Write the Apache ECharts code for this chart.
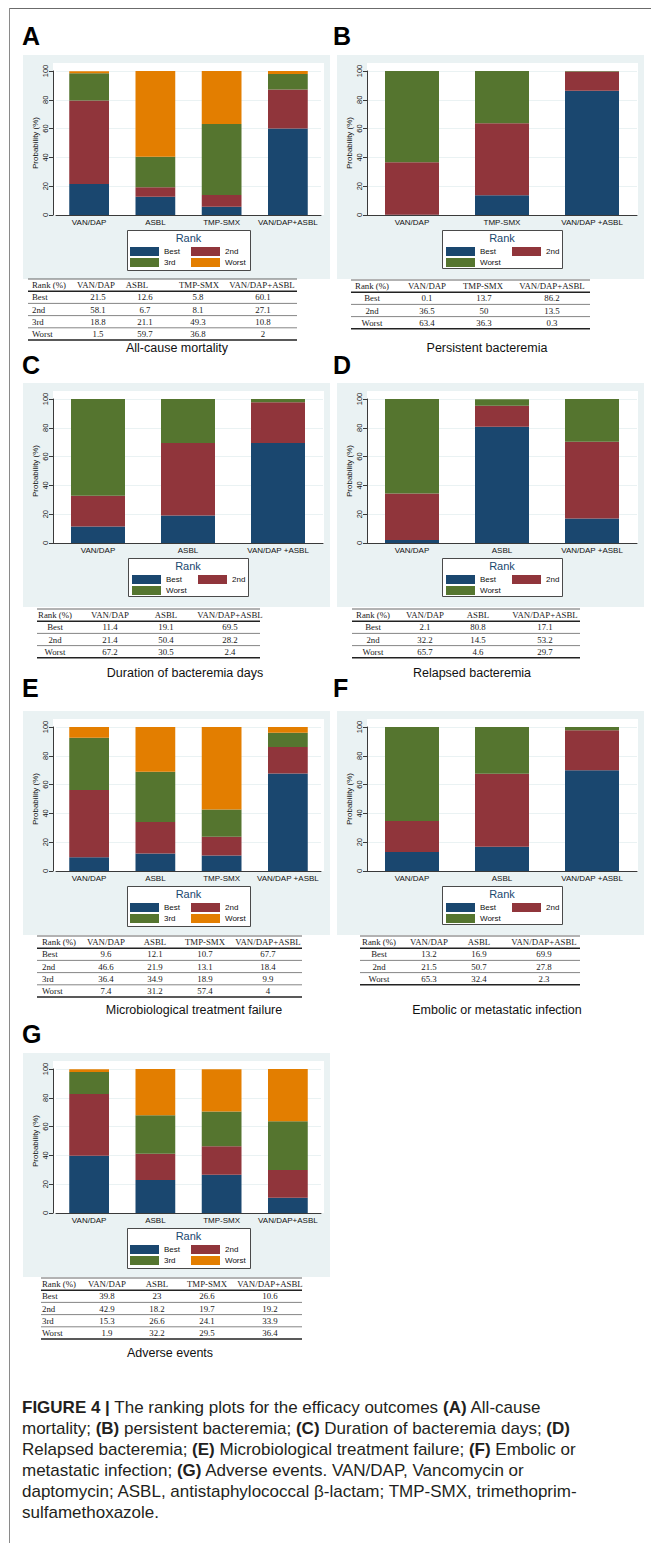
<!DOCTYPE html>
<html>
<head>
<meta charset="utf-8">
<title>Ranking plots</title>
<script src="https://cdn.jsdelivr.net/npm/echarts@6/dist/echarts.min.js"></script>
<style>
  html, body { margin: 0; padding: 0; background: #fff; }
  #chart { width: 651px; height: 1543px; }
</style>
</head>
<body>
<div id="chart"></div>
<script>
// ---------- rank levels and y ticks ----------
const rankLevels4 = ['Best', '2nd', '3rd', 'Worst'];
const rankLevels3 = ['Best', '2nd', 'Worst'];
const yTickValues = [0, 20, 40, 60, 80, 100];

// ---------- treatment arms (axis labels) ----------
const armsA = ['VAN/DAP', 'ASBL', 'TMP-SMX', 'VAN/DAP+ASBL'];
const armsB = ['VAN/DAP', 'TMP-SMX', 'VAN/DAP +ASBL'];
const armsC = ['VAN/DAP', 'ASBL', 'VAN/DAP +ASBL'];
const armsD = ['VAN/DAP', 'ASBL', 'VAN/DAP +ASBL'];
const armsE = ['VAN/DAP', 'ASBL', 'TMP-SMX', 'VAN/DAP +ASBL'];
const armsF = ['VAN/DAP', 'ASBL', 'VAN/DAP +ASBL'];
const armsG = ['VAN/DAP', 'ASBL', 'TMP-SMX', 'VAN/DAP+ASBL'];

// ---------- table column headers ----------
const head4 = ['VAN/DAP', 'ASBL', 'TMP-SMX', 'VAN/DAP+ASBL'];
const headB = ['VAN/DAP', 'TMP-SMX', 'VAN/DAP+ASBL'];
const head3 = ['VAN/DAP', 'ASBL', 'VAN/DAP+ASBL'];

// ---------- rank probabilities (%) ----------
// (A) All-cause mortality
const aBest  = [21.5, 12.6, 5.8, 60.1];
const a2nd   = [58.1, 6.7, 8.1, 27.1];
const a3rd   = [18.8, 21.1, 49.3, 10.8];
const aWorst = [1.5, 59.7, 36.8, 2];
// (B) Persistent bacteremia
const bBest  = [0.1, 13.7, 86.2];
const b2nd   = [36.5, 50, 13.5];
const bWorst = [63.4, 36.3, 0.3];
// (C) Duration of bacteremia days
const cBest  = [11.4, 19.1, 69.5];
const c2nd   = [21.4, 50.4, 28.2];
const cWorst = [67.2, 30.5, 2.4];
// (D) Relapsed bacteremia
const dBest  = [2.1, 80.8, 17.1];
const d2nd   = [32.2, 14.5, 53.2];
const dWorst = [65.7, 4.6, 29.7];
// (E) Microbiological treatment failure
const eBest  = [9.6, 12.1, 10.7, 67.7];
const e2nd   = [46.6, 21.9, 13.1, 18.4];
const e3rd   = [36.4, 34.9, 18.9, 9.9];
const eWorst = [7.4, 31.2, 57.4, 4];
// (F) Embolic or metastatic infection
const fBest  = [13.2, 16.9, 69.9];
const f2nd   = [21.5, 50.7, 27.8];
const fWorst = [65.3, 32.4, 2.3];
// (G) Adverse events
const gBest  = [39.8, 23, 26.6, 10.6];
const g2nd   = [42.9, 18.2, 19.7, 19.2];
const g3rd   = [15.3, 26.6, 24.1, 33.9];
const gWorst = [1.9, 32.2, 29.5, 36.4];

// ---------- caption ----------
const captionLines = [
  '{b|FIGURE 4 |} The ranking plots for the efficacy outcomes {b|(A)} All-cause',
  'mortality; {b|(B)} persistent bacteremia; {b|(C)} Duration of bacteremia days; {b|(D)}',
  'Relapsed bacteremia; {b|(E)} Microbiological treatment failure; {b|(F)} Embolic or',
  'metastatic infection; {b|(G)} Adverse events. VAN/DAP, Vancomycin or',
  'daptomycin; ASBL, antistaphylococcal \u03b2-lactam; TMP-SMX, trimethoprim-',
  'sulfamethoxazole.'
];

// ---------- styling ----------
const NAVY = '#1A476F', MAROON = '#90353B', FOREST = '#55752F', ORANGE = '#E37E00';
const colors4 = [NAVY, MAROON, FOREST, ORANGE];
const colors3 = [NAVY, MAROON, FOREST];
const PANEL_BG = '#EAF2F3';
const AXIS = '#3a3a3a';
const SANS = '"Liberation Sans", Arial, Helvetica, sans-serif';
const SERIF = '"Liberation Serif", "Times New Roman", serif';

// Panel layout: background origin, letter, caption and table placement
const panels = [
  { tag: 'A', title: 'All-cause mortality', arms: armsA, head: head4, ranks: rankLevels4,
    values: [aBest, a2nd, a3rd, aWorst], bx: 23, by: 55, lx: 22, ly: 35.5, tx: 177, ty: 348,
    tab: { top: 279, x0: 28, x1: 297, rowX: 32, rowAlign: 'left', headX: [96, 137, 199, 262], valX: [98, 145, 198, 263] } },
  { tag: 'B', title: 'Persistent bacteremia', arms: armsB, head: headB, ranks: rankLevels3,
    values: [bBest, b2nd, bWorst], bx: 337, by: 55, lx: 333, ly: 35.5, tx: 487, ty: 348,
    tab: { top: 280, x0: 351, x1: 590, rowX: 372, rowAlign: 'center', headX: [427, 483, 552], valX: [427, 484, 552] } },
  { tag: 'C', title: 'Duration of bacteremia days', arms: armsC, head: head3, ranks: rankLevels3,
    values: [cBest, c2nd, cWorst], bx: 23, by: 383, lx: 22, ly: 365, tx: 185, ty: 673,
    tab: { top: 609, x0: 37, x1: 260, rowX: 55, rowAlign: 'center', headX: [110, 166, 230], valX: [110, 166, 230] } },
  { tag: 'D', title: 'Relapsed bacteremia', arms: armsD, head: head3, ranks: rankLevels3,
    values: [dBest, d2nd, dWorst], bx: 337, by: 383, lx: 333, ly: 365, tx: 472, ty: 673,
    tab: { top: 609, x0: 352, x1: 580, rowX: 373, rowAlign: 'center', headX: [425, 478, 545], valX: [425, 478, 545] } },
  { tag: 'E', title: 'Microbiological treatment failure', arms: armsE, head: head4, ranks: rankLevels4,
    values: [eBest, e2nd, e3rd, eWorst], bx: 23, by: 711, lx: 22, ly: 687.5, tx: 194, ty: 1010,
    tab: { top: 936, x0: 37, x1: 302, rowX: 42, rowAlign: 'left', headX: [106, 155, 205, 268], valX: [106, 155, 205, 268] } },
  { tag: 'F', title: 'Embolic or metastatic infection', arms: armsF, head: head3, ranks: rankLevels3,
    values: [fBest, f2nd, fWorst], bx: 337, by: 711, lx: 333, ly: 687.5, tx: 497, ty: 1010,
    tab: { top: 936, x0: 360, x1: 580, rowX: 379, rowAlign: 'center', headX: [429, 479, 544], valX: [429, 479, 544] } },
  { tag: 'G', title: 'Adverse events', arms: armsG, head: head4, ranks: rankLevels4,
    values: [gBest, g2nd, g3rd, gWorst], bx: 23, by: 1053, lx: 22, ly: 1034, tx: 170, ty: 1353,
    tab: { top: 1278, x0: 41, x1: 302, rowX: 42, rowAlign: 'left', headX: [107, 157, 207, 270], valX: [107, 157, 207, 270] } }
];

const chart = echarts.init(document.getElementById('chart'), null, { renderer: 'svg', width: 651, height: 1543 });

const option = {
  animation: false,
  backgroundColor: '#ffffff',
  grid: [], xAxis: [], yAxis: [], series: [], legend: [], title: [],
  graphic: { elements: [] }
};
const G = option.graphic.elements;

function text(x, y, str, font, fill, align, extra) {
  return Object.assign({
    type: 'text', x: x, y: y, silent: true,
    style: { text: str, font: font, fill: fill, textAlign: align, align: align,
             textVerticalAlign: 'middle', verticalAlign: 'middle' }
  }, extra || {});
}
function line(x1, y1, x2, y2, stroke, w) {
  return { type: 'line', silent: true, shape: { x1: x1, y1: y1, x2: x2, y2: y2 },
           style: { stroke: stroke, lineWidth: w } };
}

// outer frame of the figure
G.push(line(9, 8.5, 651, 8.5, '#6b6b6b', 1));
G.push(line(9.5, 8, 9.5, 1543, '#8a8a8a', 1));

const PANEL_W = 307, PANEL_H = 224;
const yMin = yTickValues[0], yMax = yTickValues[yTickValues.length - 1];
const yStep = yTickValues[1] - yTickValues[0];

panels.forEach(function (p, i) {
  const four = p.arms.length === 4;
  const colors = p.ranks.length === 4 ? colors4 : colors3;
  const axisX = p.bx + 30;
  const gLeft = p.bx + (four ? 33 : 30);
  const gWidth = four ? 265 : 270;

  // panel background and plot region
  G.push({ type: 'rect', silent: true, z: -10, shape: { x: p.bx, y: p.by, width: PANEL_W, height: PANEL_H }, style: { fill: PANEL_BG } });
  G.push({ type: 'rect', silent: true, z: -9, shape: { x: axisX, y: p.by + 8, width: 271, height: 152 }, style: { fill: '#ffffff' } });

  option.grid.push({ left: gLeft, top: p.by + 16, width: gWidth, height: 144, containLabel: false, outerBoundsMode: 'none' });

  option.xAxis.push({
    type: 'category', gridIndex: i, data: p.arms,
    axisLine: { show: true, lineStyle: { color: AXIS, width: 1 } },
    axisTick: { show: false },
    axisLabel: { interval: 0, fontSize: 8, fontFamily: SANS, color: '#111', margin: 3 },
    splitLine: { show: false }
  });

  option.yAxis.push({
    type: 'value', gridIndex: i, min: yMin, max: yMax, interval: yStep,
    offset: gLeft - axisX,
    axisLine: { show: true, lineStyle: { color: AXIS, width: 1 } },
    axisTick: { show: true, length: 4, lineStyle: { color: AXIS } },
    axisLabel: { rotate: 90, fontSize: 7.5, fontFamily: SANS, color: '#111', margin: 4 },
    splitLine: { show: true, lineStyle: { color: PANEL_BG, width: 1 } },
    name: 'Probability (%)', nameLocation: 'middle', nameRotate: 90, nameGap: 14,
    nameMoveOverlap: false,
    nameTextStyle: { fontSize: 8, fontFamily: SANS, color: '#111' }
  });

  p.ranks.forEach(function (r, k) {
    option.series.push({
      type: 'bar', name: r, xAxisIndex: i, yAxisIndex: i, stack: 'rank' + i,
      barWidth: '60%', data: p.values[k], silent: true,
      itemStyle: { color: colors[k] }
    });
  });

  // legend box with "Rank" heading
  const boxL = p.bx + (four ? 104 : 105);
  const boxW = four ? 123 : 120;
  const boxH = p.ranks.length === 4 ? 40 : 38;
  G.push({ type: 'rect', silent: true, z: 5, shape: { x: boxL + 0.5, y: p.by + 175.5, width: boxW, height: boxH },
           style: { fill: '#ffffff', stroke: '#4a4a4a', lineWidth: 1 } });
  G.push(text(boxL + boxW / 2, p.by + 183, 'Rank', '11px ' + SANS, NAVY, 'center', { z: 6 }));

  option.legend.push({
    left: boxL + (four ? 3 : 4), top: p.by + 192, width: 140,
    orient: 'horizontal', padding: 0, itemGap: 2,
    itemWidth: 29, itemHeight: 9, icon: 'rect', selectedMode: false, z: 7,
    data: p.ranks.map(function (r, k) { return { name: r, itemStyle: { color: colors[k] } }; }),
    textStyle: { fontSize: 8, fontFamily: SANS, color: '#111', width: four ? 25 : 30, lineHeight: 9 }
  });

  // panel letter and outcome caption
  G.push(text(p.lx, p.ly, p.tag, 'bold 25px ' + SANS, '#000', 'left'));
  G.push(text(p.tx, p.ty, p.title, '12.5px ' + SANS, '#111', 'center'));

  // summary table
  const t = p.tab, pitch = 12.2;
  const nRows = p.ranks.length;
  const tf = '8.8px ' + SERIF;
  G.push(line(t.x0, t.top, t.x1, t.top, '#555', 0.9));
  G.push(text(t.rowX, t.top + pitch / 2, 'Rank (%)', tf, '#1a1a1a', t.rowAlign));
  p.head.forEach(function (h, c) {
    G.push(text(t.headX[c], t.top + pitch / 2, h, tf, '#1a1a1a', 'center'));
  });
  for (let r = 0; r < nRows; r++) {
    const yLine = t.top + pitch * (r + 1);
    const heavy = r === 0;
    G.push(line(t.x0, yLine, t.x1, yLine, heavy ? '#222' : '#666', heavy ? 1.4 : 0.8));
    const yc = yLine + pitch / 2;
    G.push(text(t.rowX, yc, p.ranks[r], tf, '#1a1a1a', t.rowAlign));
    p.values[r].forEach(function (v, c) {
      G.push(text(t.valX[c], yc, String(v), tf, '#1a1a1a', 'center'));
    });
  }
  const yBottom = t.top + pitch * (nRows + 1);
  G.push(line(t.x0, yBottom, t.x1, yBottom, '#222', 1.4));
});

// figure caption
option.title.push({
  left: 22, top: 1396.5, padding: 0,
  text: captionLines.join('\n'),
  textStyle: {
    fontSize: 17, fontFamily: SANS, fontWeight: 'normal', color: '#231F20', lineHeight: 21,
    rich: { b: { fontSize: 17, fontFamily: SANS, fontWeight: 'bold', color: '#231F20', lineHeight: 21 } }
  }
});

chart.setOption(option);
</script>
</body>
</html>
